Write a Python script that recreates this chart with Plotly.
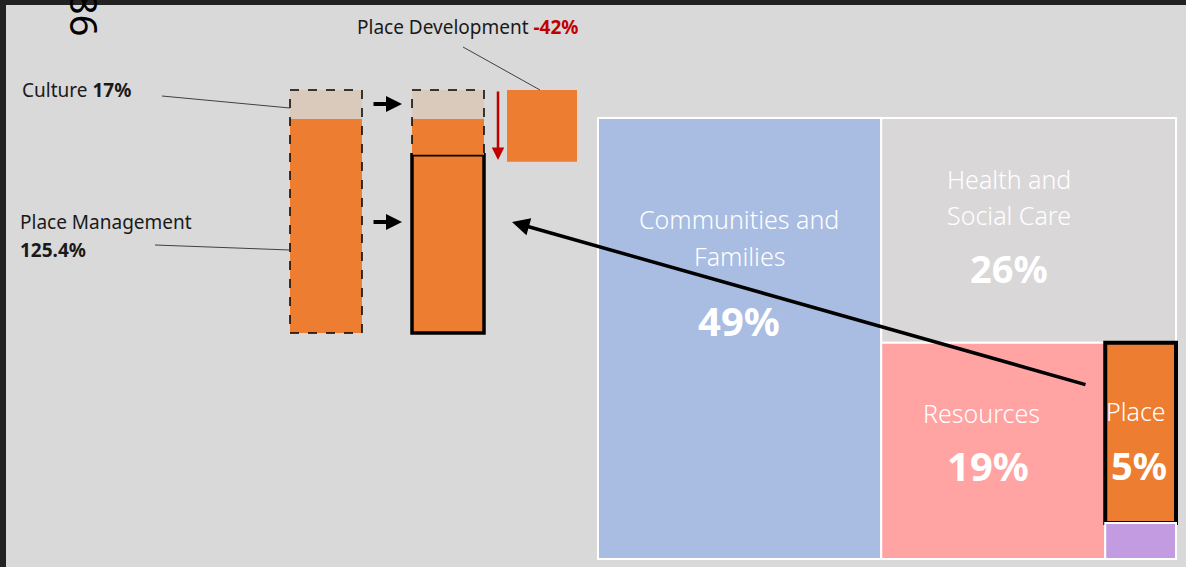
import plotly.graph_objects as go

# ---------------- data ----------------
tm_labels = ["Communities and Families", "Health and Social Care", "Resources", "Place", "Other"]
tm_values = [49, 26, 19, 5, 1]
tm_colors = ["#a9bce2", "#d9d7d7", "#ffa3a3", "#ed7d31", "#c39be0"]

bar_names = ["Before", "After", "Place Development"]
place_mgmt = [125.4, 104.4]      # orange base segment, before / after
moved = [21.0]                    # orange segment above remaining (after)
culture = [17.0, 17.0]            # culture segment, before / after
place_dev = 42.0                  # moved out (-42%)

# ---------------- layout constants (pixels) ----------------
W, H = 1186, 567
BG = "#d9d9d9"
ORANGE = "#ed7d31"
BEIGE = "#dacabc"
RED = "#c00000"
FONT = "Noto Sans"
bar_px = [326, 448, 542]
bar_w = [72, 72, 70]

total_before = place_mgmt[0] + culture[0]
dev_base = total_before - place_dev

fig = go.Figure()

# ---------------- bars (x in px, y2 in %) ----------------
fig.add_trace(go.Bar(x=bar_px[:2], y=place_mgmt, base=[0, 0], width=bar_w[:2],
                     marker=dict(color=ORANGE, line=dict(color=["rgba(0,0,0,0)", "black"], width=[0, 3.5])),
                     xaxis="x", yaxis="y2", showlegend=False, hoverinfo="skip"))
fig.add_trace(go.Bar(x=[bar_px[1]], y=moved, base=[place_mgmt[1]], width=[bar_w[1]],
                     marker=dict(color=ORANGE, line=dict(width=0)),
                     xaxis="x", yaxis="y2", showlegend=False, hoverinfo="skip"))
fig.add_trace(go.Bar(x=bar_px[:2], y=culture, base=[place_mgmt[0], place_mgmt[1] + moved[0]], width=bar_w[:2],
                     marker=dict(color=BEIGE, line=dict(width=0)),
                     xaxis="x", yaxis="y2", showlegend=False, hoverinfo="skip"))
fig.add_trace(go.Bar(x=[bar_px[2]], y=[place_dev], base=[dev_base], width=[bar_w[2]],
                     marker=dict(color=ORANGE, line=dict(width=0)),
                     xaxis="x", yaxis="y2", showlegend=False, hoverinfo="skip"))

# ---------------- treemap ----------------
fig.add_trace(go.Treemap(
    labels=tm_labels, parents=[""] * len(tm_labels), values=tm_values,
    sort=True, textinfo="none", hoverinfo="skip",
    marker=dict(colors=tm_colors,
                line=dict(color=["white", "white", "white", "black", "white"], width=[2, 2, 2, 4, 2]),
                pad=dict(t=0, l=0, r=0, b=0)),
    pathbar=dict(visible=False),
    tiling=dict(packing="squarify", squarifyratio=1, pad=0),
    domain=dict(x=[598 / W, 1176 / W], y=[(H - 559) / H, (H - 118) / H]),
))

# y2 scale: 0% at pixel 333, total_before at pixel 90
px_per = (333 - 90) / total_before
y2_range = [-(H - 333) / px_per, 333 / px_per]

shapes = []
# dashed outlines around stacked bars
for i in range(2):
    shapes.append(dict(type="rect", xref="x", yref="y2",
                       x0=bar_px[i] - bar_w[i] / 2, x1=bar_px[i] + bar_w[i] / 2,
                       y0=0, y1=total_before, line=dict(color="black", width=1.5, dash="dash")))
# leader lines
shapes.append(dict(type="line", xref="x", yref="y", x0=162, y0=96, x1=bar_px[0] - bar_w[0] / 2, y1=108,
                   line=dict(color="#404040", width=1)))
shapes.append(dict(type="line", xref="x", yref="y", x0=155, y0=245, x1=bar_px[0] - bar_w[0] / 2, y1=250,
                   line=dict(color="#404040", width=1)))
shapes.append(dict(type="line", xref="x", yref="y", x0=463, y0=47, x1=540, y1=90,
                   line=dict(color="#404040", width=1)))
# dark window frame strips
shapes.append(dict(type="rect", xref="paper", yref="paper", x0=0, x1=6 / W, y0=0, y1=1,
                   fillcolor="#222222", line=dict(width=0), layer="above"))
shapes.append(dict(type="rect", xref="paper", yref="paper", x0=0, x1=1, y0=1 - 5 / H, y1=1,
                   fillcolor="#222222", line=dict(width=0), layer="above"))

ann = []
def txt(x, y, text, size, color="#1a1a1a", xanchor="center", weight="normal", **kw):
    ann.append(dict(x=x, y=y, xref="x", yref="y", text=text, showarrow=False, xanchor=xanchor,
                    yanchor="middle", font=dict(family=FONT, size=size, color=color, weight=weight), **kw))

def arrow(x0, y0, x1, y1, color, width, size, head=2):
    ann.append(dict(x=x1, y=y1, ax=x0, ay=y0, xref="x", yref="y", axref="x", ayref="y", text="",
                    showarrow=True, arrowhead=head, arrowwidth=width, arrowsize=size, arrowcolor=color,
                    standoff=0, startstandoff=0))

# left labels
txt(20, 90, "Culture <b>17%</b>", 19, xanchor="left")
txt(18, 222, "Place Management", 19, xanchor="left")
txt(18, 250, "<b>125.4%</b>", 19, xanchor="left")
txt(467, 27, "Place Development <b><span style='color:%s'>-42%%</span></b>" % RED, 19)
# rotated page number (partly hidden under the top frame, as in the reference)
txt(85, 14, "86", 38, color="black", textangle=90)

# treemap labels
WH = "white"
txt(739, 219, "Communities and", 25, WH, weight=300)
txt(739, 256, "Families", 25, WH, weight=300)
txt(739, 320, "<b>49%</b>", 40, WH)
txt(1009, 179, "Health and", 25, WH, weight=300)
txt(1009, 215, "Social Care", 25, WH, weight=300)
txt(1009, 268, "<b>26%</b>", 38, WH)
txt(981, 413, "Resources", 25, WH, weight=300)
txt(988, 465, "<b>19%</b>", 40, WH)
txt(1136, 411, "Place", 25, WH, weight=300)
txt(1139, 465, "<b>5%</b>", 38, WH)

# arrows
arrow(372, 104, 402, 104, "black", 4, 0.8)
arrow(372, 222, 402, 222, "black", 4, 0.8)
arrow(498, 90, 498, 160, RED, 2.5, 1)
arrow(1087, 385, 512, 222, "black", 3.5, 1)

fig.update_layout(
    width=W, height=H, margin=dict(l=0, r=0, t=0, b=0),
    paper_bgcolor=BG, plot_bgcolor=BG, barmode="overlay",
    xaxis=dict(range=[0, W], visible=False, domain=[0, 1], fixedrange=True),
    yaxis=dict(range=[H, 0], visible=False, domain=[0, 1], fixedrange=True),
    yaxis2=dict(range=y2_range, visible=False, overlaying="y", domain=[0, 1], fixedrange=True),
    shapes=shapes, annotations=ann, showlegend=False,
)

fig.write_html("out.html", config={"displayModeBar": False})
